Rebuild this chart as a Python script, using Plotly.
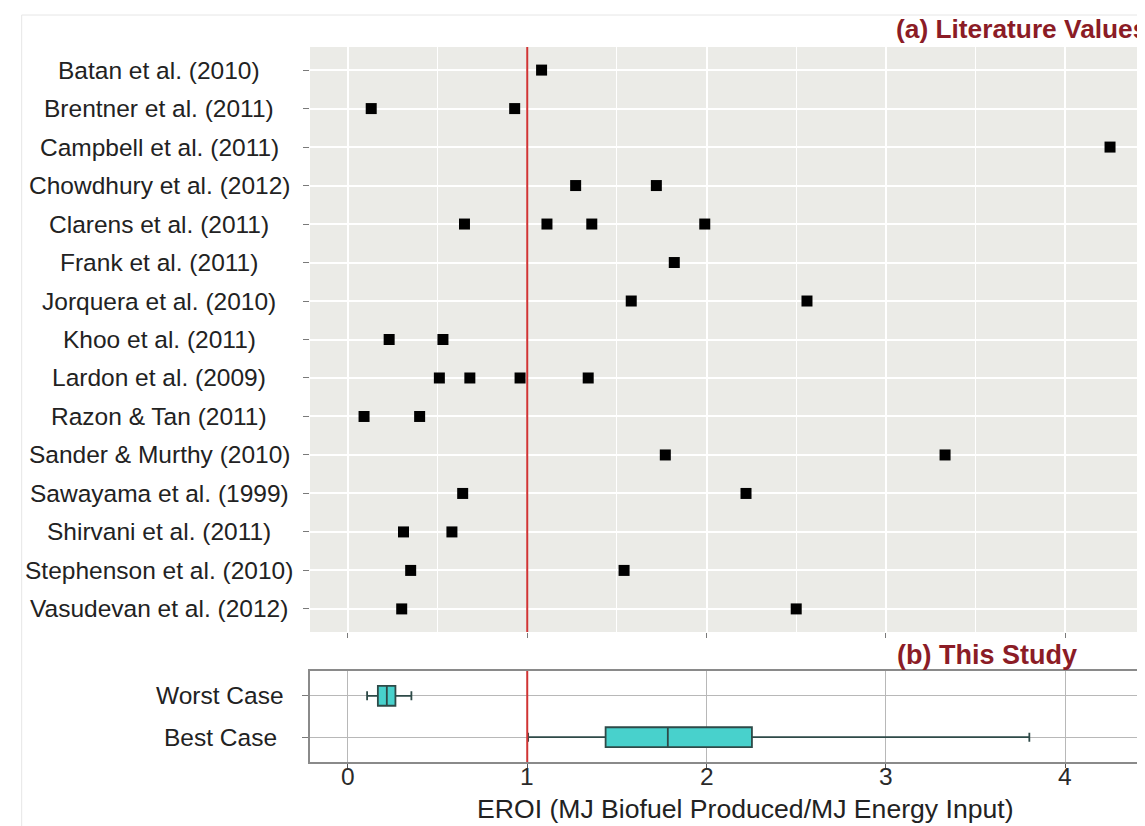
import plotly.graph_objects as go

# ---------------- data ----------------
studies = [
    "Batan et al. (2010)", "Brentner et al. (2011)", "Campbell et al. (2011)",
    "Chowdhury et al. (2012)", "Clarens et al. (2011)", "Frank et al. (2011)",
    "Jorquera et al. (2010)", "Khoo et al. (2011)", "Lardon et al. (2009)",
    "Razon & Tan (2011)", "Sander & Murthy (2010)", "Sawayama et al. (1999)",
    "Shirvani et al. (2011)", "Stephenson et al. (2010)", "Vasudevan et al. (2012)",
]
eroi_values = [
    [1.08],
    [0.13, 0.93],
    [4.25],
    [1.27, 1.72],
    [0.65, 1.11, 1.36, 1.99],
    [1.82],
    [1.58, 2.56],
    [0.23, 0.53],
    [0.51, 0.68, 0.96, 1.34],
    [0.09, 0.40],
    [1.77, 3.33],
    [0.64, 2.22],
    [0.31, 0.58],
    [0.35, 1.54],
    [0.30, 2.50],
]

cases = ["Worst Case", "Best Case"]
box_lower = [0.107, 1.005]
box_q1 = [0.167, 1.437]
box_median = [0.217, 1.784]
box_q3 = [0.265, 2.253]
box_upper = [0.354, 3.80]

x_ticks = [0, 1, 2, 3, 4]
threshold = 1.0

# ---------------- layout helpers ----------------
W, H = 1145, 826
L = 302
def px_x(p):
    return (p - L) / (W - L)
def px_y(p):
    return (H - p) / H

FONT = "Liberation Sans, Arial, sans-serif"
TITLE_RED = "#8b1c26"
TEXT = "#222222"

pts_x, pts_y = [], []
for s, vals in zip(studies, eroi_values):
    for v in vals:
        pts_x.append(v)
        pts_y.append(s)

fig = go.Figure()

fig.add_trace(go.Scatter(
    x=pts_x, y=pts_y, mode="markers",
    marker=dict(symbol="square", size=11, color="black"),
    xaxis="x", yaxis="y", showlegend=False, hoverinfo="skip",
))

fig.add_trace(go.Box(
    y=cases, q1=box_q1, median=box_median, q3=box_q3,
    lowerfence=box_lower, upperfence=box_upper,
    orientation="h", xaxis="x2", yaxis="y2",
    fillcolor="#48d1cc", line=dict(color="#2e4a48", width=1.8),
    width=0.48, whiskerwidth=0.45, showlegend=False, boxpoints=False,
    hoverinfo="skip",
))

xrange = [(L - 340) / 179.75, (W - 340) / 179.75]

fig.update_layout(
    width=W, height=H,
    margin=dict(l=L, r=0, t=0, b=0, pad=0),
    paper_bgcolor="white",
    plot_bgcolor="white",
    showlegend=False,
    font=dict(family=FONT, color=TEXT),
    xaxis=dict(
        domain=[0, 1], anchor="y", range=xrange,
        tickvals=x_ticks, showticklabels=False,
        ticks="outside", ticklen=5, tickcolor="#7a7a7a", tickwidth=1,
        showgrid=True, gridcolor="white", gridwidth=1.6,
        minor=dict(dtick=0.5, tick0=0, showgrid=True, gridcolor="white", gridwidth=0.9),
        zeroline=False, showline=False,
    ),
    yaxis=dict(
        domain=[px_y(624), px_y(39)], anchor="x",
        type="category", categoryorder="array", categoryarray=studies,
        range=[len(studies) - 1 + 0.6, -0.6],
        showticklabels=False,
        ticks="outside", ticklen=6, tickcolor="#7a7a7a", tickwidth=1,
        showgrid=True, gridcolor="white", gridwidth=1.6,
        zeroline=False, showline=False,
    ),
    xaxis2=dict(
        domain=[0, 1], anchor="y2", range=xrange, matches="x",
        tickvals=x_ticks, showticklabels=False,
        ticks="outside", ticklen=4, tickcolor="#555555", tickwidth=1.2,
        showgrid=True, gridcolor="#b8b8b8", gridwidth=1,
        zeroline=False, showline=True, mirror=True,
        linecolor="#8a8a8a", linewidth=1.6,
    ),
    yaxis2=dict(
        domain=[px_y(754), px_y(663)], anchor="x2",
        type="category", categoryorder="array", categoryarray=cases,
        range=[len(cases) - 1 + 0.6, -0.6],
        showticklabels=False,
        ticks="outside", ticklen=6, tickcolor="#7a7a7a", tickwidth=1,
        showgrid=True, gridcolor="#b8b8b8", gridwidth=1,
        zeroline=False, showline=True, mirror=True,
        linecolor="#8a8a8a", linewidth=1.6,
    ),
)

shapes = [
    # grey panel background for (a)
    dict(type="rect", xref="x domain", yref="y domain", x0=0, x1=1, y0=0, y1=1,
         fillcolor="#ebebe7", line=dict(width=0), layer="below"),
    # threshold lines (EROI = 1)
    dict(type="line", xref="x", yref="y domain", x0=threshold, x1=threshold, y0=0, y1=1,
         line=dict(color="#d03434", width=2), layer="above"),
    dict(type="line", xref="x2", yref="y2 domain", x0=threshold, x1=threshold, y0=0, y1=1,
         line=dict(color="#d03434", width=2), layer="above"),
    # faint outer frame
    dict(type="rect", xref="paper", yref="paper", x0=px_x(13), x1=px_x(W + 20),
         y0=px_y(H + 20), y1=px_y(7), line=dict(color="#e6e6e6", width=1),
         fillcolor="rgba(0,0,0,0)", layer="below"),
]
fig.update_layout(shapes=shapes)

annotations = []
for s in studies:
    annotations.append(dict(
        text=s, xref="paper", yref="y", x=px_x(151), y=s,
        xanchor="center", yanchor="middle", showarrow=False,
        font=dict(size=24.5, color=TEXT, family=FONT),
    ))
for c in cases:
    annotations.append(dict(
        text=c, xref="paper", yref="y2", x=px_x(212), y=c,
        xanchor="center", yanchor="middle", showarrow=False,
        font=dict(size=24.5, color=TEXT, family=FONT),
    ))
for t in x_ticks:
    annotations.append(dict(
        text=str(t), xref="x2", yref="paper", x=t, y=px_y(768),
        xanchor="center", yanchor="middle", showarrow=False,
        font=dict(size=24.5, color="#2a2a2a", family=FONT),
    ))
annotations += [
    dict(text="(a) Literature Values", xref="paper", yref="paper",
         x=px_x(887), y=px_y(21), xanchor="left", yanchor="middle", showarrow=False,
         font=dict(size=26.3, color=TITLE_RED, family=FONT, weight="bold")),
    dict(text="(b) This Study", xref="paper", yref="paper",
         x=px_x(888), y=px_y(647), xanchor="left", yanchor="middle", showarrow=False,
         font=dict(size=27, color=TITLE_RED, family=FONT, weight="bold")),
    dict(text="EROI (MJ Biofuel Produced/MJ Energy Input)", xref="paper", yref="paper",
         x=px_x(739), y=px_y(801), xanchor="center", yanchor="middle", showarrow=False,
         font=dict(size=26.6, color=TEXT, family=FONT)),
]
fig.update_layout(annotations=annotations)

fig.write_html("out.html")
